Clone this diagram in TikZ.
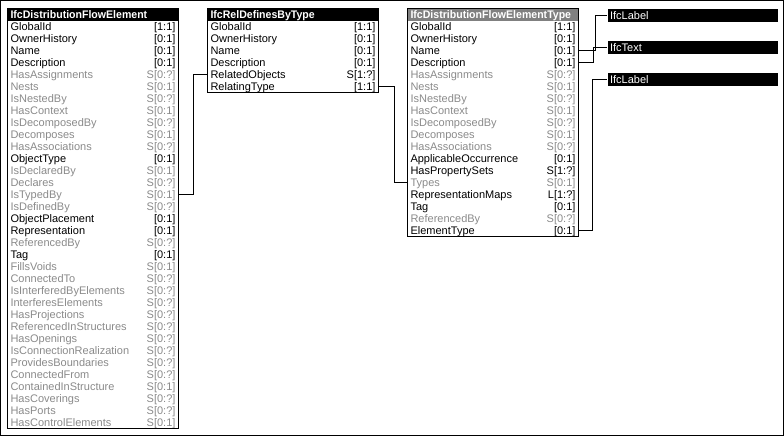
\documentclass[tikz,border=0pt]{standalone}
\usepackage{fontspec}
\setmainfont{Liberation Sans}
\newfontfamily\headfont[FakeStretch=0.96]{Liberation Sans}
\colorlet{attr}{black}
\definecolor{inv}{RGB}{138,138,138}
\definecolor{headgray}{RGB}{128,128,128}

\begin{document}
\begin{tikzpicture}[x=0.75pt,y=-0.75pt,line width=0.75pt,
  attrrow/.style={rectangle,anchor=west,inner xsep=1.9pt,inner ysep=0pt,
    text width=123.7pt,minimum height=9pt,text height=7pt,text depth=1pt,
    font=\fontsize{8.25pt}{9pt}\selectfont},
  entityhead/.style={attrrow,anchor=north west,fill=black,text=white,
    font=\headfont\bfseries\fontsize{8.25pt}{9pt}\selectfont},
  typebar/.style={attrrow,anchor=north west,fill=black,text=white,
    minimum height=9.75pt},
  link/.style={draw=black,line width=0.75pt}]

\useasboundingbox (0,0) rectangle (784,436);
\draw (0.5,0.5) rectangle (783.5,435.5);

% ---- IfcDistributionFlowElement ----
\node[entityhead] (L-title) at (7.5,8) {IfcDistributionFlowElement};
\foreach \nm/\cd/\col [count=\i from 0] in {
  GlobalId/{[1:1]}/attr, OwnerHistory/{[0:1]}/attr, Name/{[0:1]}/attr,
  Description/{[0:1]}/attr, HasAssignments/{S[0:?]}/inv, Nests/{S[0:1]}/inv,
  IsNestedBy/{S[0:?]}/inv, HasContext/{S[0:1]}/inv, IsDecomposedBy/{S[0:?]}/inv,
  Decomposes/{S[0:1]}/inv, HasAssociations/{S[0:?]}/inv, ObjectType/{[0:1]}/attr,
  IsDeclaredBy/{S[0:1]}/inv, Declares/{S[0:?]}/inv, IsTypedBy/{S[0:1]}/inv,
  IsDefinedBy/{S[0:?]}/inv, ObjectPlacement/{[0:1]}/attr, Representation/{[0:1]}/attr,
  ReferencedBy/{S[0:?]}/inv, Tag/{[0:1]}/attr, FillsVoids/{S[0:1]}/inv,
  ConnectedTo/{S[0:?]}/inv, IsInterferedByElements/{S[0:?]}/inv,
  InterferesElements/{S[0:?]}/inv, HasProjections/{S[0:?]}/inv,
  ReferencedInStructures/{S[0:?]}/inv, HasOpenings/{S[0:?]}/inv,
  IsConnectionRealization/{S[0:?]}/inv, ProvidesBoundaries/{S[0:?]}/inv,
  ConnectedFrom/{S[0:?]}/inv, ContainedInStructure/{S[0:1]}/inv,
  HasCoverings/{S[0:?]}/inv, HasPorts/{S[0:?]}/inv, HasControlElements/{S[0:1]}/inv}
  \node[attrrow,text=\col] (L-\nm) at (7.5,26+12*\i) {\nm\hfill\cd};
\draw (L-title.north west) rectangle (L-HasControlElements.south east);

% ---- IfcRelDefinesByType ----
\node[entityhead] (M-title) at (207.5,8) {IfcRelDefinesByType};
\foreach \nm/\cd/\col [count=\i from 0] in {
  GlobalId/{[1:1]}/attr, OwnerHistory/{[0:1]}/attr, Name/{[0:1]}/attr,
  Description/{[0:1]}/attr, RelatedObjects/{S[1:?]}/attr, RelatingType/{[1:1]}/attr}
  \node[attrrow,text=\col] (M-\nm) at (207.5,26+12*\i) {\nm\hfill\cd};
\draw (M-title.north west) rectangle (M-RelatingType.south east);

% ---- IfcDistributionFlowElementType ----
\node[entityhead,fill=headgray] (R-title) at (407.5,8) {IfcDistributionFlowElementType};
\foreach \nm/\cd/\col [count=\i from 0] in {
  GlobalId/{[1:1]}/attr, OwnerHistory/{[0:1]}/attr, Name/{[0:1]}/attr,
  Description/{[0:1]}/attr, HasAssignments/{S[0:?]}/inv, Nests/{S[0:1]}/inv,
  IsNestedBy/{S[0:?]}/inv, HasContext/{S[0:1]}/inv, IsDecomposedBy/{S[0:?]}/inv,
  Decomposes/{S[0:1]}/inv, HasAssociations/{S[0:?]}/inv,
  ApplicableOccurrence/{[0:1]}/attr, HasPropertySets/{S[1:?]}/attr,
  Types/{S[0:1]}/inv, RepresentationMaps/{L[1:?]}/attr, Tag/{[0:1]}/attr,
  ReferencedBy/{S[0:?]}/inv, ElementType/{[0:1]}/attr}
  \node[attrrow,text=\col] (R-\nm) at (407.5,26+12*\i) {\nm\hfill\cd};
\draw (R-title.north west) rectangle (R-ElementType.south east);

% ---- defined types ----
\node[typebar] (T-label1) at (607,8)  {IfcLabel};
\node[typebar] (T-text)   at (607,40) {IfcText};
\node[typebar] (T-label2) at (607,72) {IfcLabel};

% ---- relations ----
\draw[link] (L-IsTypedBy.east) -- ++(14.5,0) |- (M-RelatedObjects.west);
\draw[link] (M-RelatingType.east) -- ++(15.5,0) |- (R-Types.west);
\draw[link] (R-Name.east) -- ++(16.5,0) |- (T-label1.west);
\draw[link] (R-Description.east) -- ++(14.5,0) |- (T-text.west);
\draw[link] (R-ElementType.east) -- ++(13.5,0) |- (T-label2.west);
\end{tikzpicture}
\end{document}
